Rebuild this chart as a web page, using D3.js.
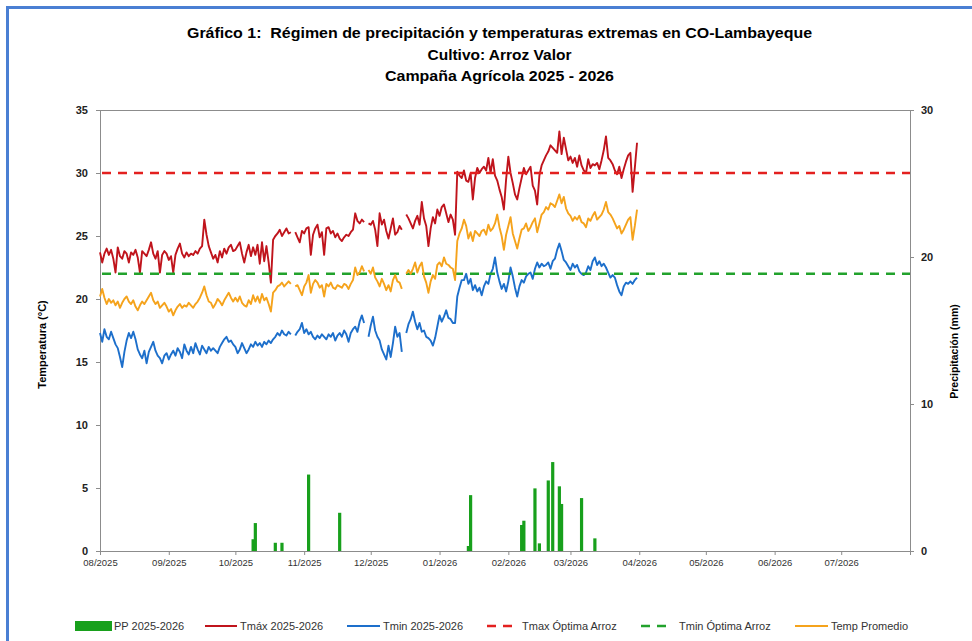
<!DOCTYPE html>
<html>
<head>
<meta charset="utf-8">
<script src="https://cdn.jsdelivr.net/npm/d3@7"></script>
<style>
  body { margin: 0; background: #fff; }
  svg { display: block; }
  text { font-family: "Liberation Sans", Arial, sans-serif; }
  text.title { white-space: pre; }
</style>
</head>
<body>
<svg id="chart" width="972" height="641"></svg>
<script>
// ---------------- DATA ----------------
const startDate = "2025-08-01";
const endDate = "2026-08-01";
const monthLabels = ["08/2025","09/2025","10/2025","11/2025","12/2025","01/2026",
                     "02/2026","03/2026","04/2026","05/2026","06/2026","07/2026"];
const tempTicks = [0, 5, 10, 15, 20, 25, 30, 35];
const ppTicks = [0, 10, 20, 30];

// Daily series from 01/08/2025 to 31/03/2026 (null = missing day)
const tmax = [
  23.7,22.9,23.6,24.0,23.5,23.9,23.2,22.1,24.1,23.4,23.2,23.8,23.6,22.9,23.7,23.5,23.9,23.3,22.1,23.8,23.6,23.4,23.9,24.5,23.6,23.2,23.8,22.1,23.5,23.8,23.6,
  23.1,23.4,22.1,23.5,24.0,24.4,23.6,23.3,23.7,23.4,23.6,23.5,23.8,23.6,24.0,24.2,26.3,25.1,24.2,23.7,23.2,23.5,22.9,23.8,23.3,24.0,23.6,24.1,24.3,23.8,
  23.9,24.2,24.5,23.6,22.9,23.7,24.3,23.4,24.1,23.5,24.3,22.8,24.5,23.0,24.2,22.9,21.3,24.7,25.0,25.2,25.5,25.0,25.3,25.6,25.2,25.3,null,25.3,24.9,24.5,25.4,
  25.2,25.6,25.7,23.5,25.1,25.6,25.9,24.9,25.3,23.5,25.6,25.7,25.2,25.4,24.9,25.2,24.8,24.6,24.9,25.1,25.0,25.3,25.5,26.8,26.2,26.0,26.3,26.1,null,26.0,
  25.9,26.2,25.5,24.2,26.8,25.9,26.3,25.4,24.8,25.6,26.4,25.1,25.3,25.8,25.5,null,26.7,26.4,26.0,25.6,26.2,26.6,25.9,27.7,26.4,25.8,24.2,25.6,26.5,26.0,27.1,
  26.6,27.3,27.5,26.8,26.1,26.7,26.3,25.1,30.1,29.8,29.6,30.2,29.4,29.3,30.0,27.9,29.6,30.4,30.0,30.3,30.5,30.2,31.2,30.0,31.1,29.8,29.4,28.7,28.1,27.1,29.5,
  31.3,30.0,29.2,28.3,27.9,28.8,29.6,30.4,29.9,30.2,30.5,29.0,28.6,27.5,29.8,30.6,31.0,31.4,31.7,32.2,32.0,31.8,31.6,33.3,31.5,32.8,31.9,31.0,
  31.3,30.8,31.2,30.5,31.4,30.6,30.2,30.0,31.1,30.4,30.7,30.6,30.8,30.3,31.0,31.8,32.9,31.2,31.0,30.7,30.2,29.9,30.5,29.6,30.3,30.9,31.4,31.6,28.5,30.4,32.4
];
const tmin = [
  17.3,16.6,17.6,17.0,16.8,17.4,16.9,16.4,16.1,15.4,14.6,15.8,16.7,17.3,16.9,17.4,16.8,16.0,15.6,15.3,15.9,14.9,15.8,16.2,16.6,15.9,15.5,15.3,14.9,15.5,15.7,
  15.2,15.6,15.9,15.5,16.1,15.8,15.3,16.4,15.9,15.6,16.2,15.7,16.5,16.0,15.6,16.3,16.0,15.7,16.2,15.9,16.1,15.9,15.7,16.2,16.5,16.8,17.0,16.6,16.7,16.4,
  16.2,15.7,16.0,16.5,16.1,15.7,16.0,16.4,16.2,16.6,16.3,16.5,16.2,16.6,16.4,16.7,16.5,16.8,17.0,17.3,17.1,17.5,17.2,17.1,17.4,17.2,null,17.1,17.4,17.6,18.1,
  17.3,17.6,17.2,17.4,17.0,16.8,17.1,16.9,17.2,17.0,16.8,17.2,17.0,17.3,16.7,17.1,17.3,17.0,17.5,17.2,16.6,17.3,17.6,17.8,17.4,18.2,18.7,18.1,null,17.0,
  17.9,18.6,17.5,17.0,16.7,16.0,15.6,15.2,16.3,15.4,16.5,17.8,17.0,17.3,15.8,null,17.3,18.0,18.4,19.0,18.2,17.6,18.1,17.4,17.5,17.0,16.9,16.7,16.3,16.9,17.8,
  18.7,18.2,18.6,19.1,18.5,18.4,18.1,18.1,20.2,20.9,21.5,21.5,22.0,21.2,21.6,20.7,21.1,20.6,20.9,20.3,21.0,21.4,21.2,22.0,22.4,23.3,22.1,21.4,20.8,21.2,20.6,
  21.4,22.5,21.8,20.9,20.2,21.0,21.5,21.3,21.8,22.0,22.1,21.6,22.4,22.9,22.5,22.8,22.6,22.7,22.9,22.4,23.0,23.2,23.9,24.4,23.8,23.1,22.9,22.6,
  22.3,22.8,22.5,22.7,22.2,22.0,21.9,22.1,22.6,22.3,23.0,23.3,22.7,23.0,22.6,22.8,22.5,22.1,21.7,21.9,21.7,21.1,20.6,20.3,21.0,21.3,21.2,21.4,21.2,21.5,21.7
];
const tavg = [
  20.2,20.8,20.1,19.6,20.0,19.7,19.9,19.5,19.8,19.3,19.7,20.0,20.2,19.8,19.6,19.9,19.4,19.1,19.5,19.8,19.6,19.9,20.2,20.5,19.9,19.6,19.8,19.3,19.5,19.7,19.4,
  19.0,19.2,18.7,19.1,19.4,19.6,19.3,19.5,19.4,19.7,19.5,19.3,19.6,19.8,20.1,20.5,21.0,20.3,19.8,19.7,19.3,19.6,20.0,19.8,19.5,19.9,20.2,20.5,20.1,19.8,
  20.1,19.8,20.2,19.7,19.5,19.4,19.9,19.6,20.3,19.8,20.2,19.7,20.4,19.9,20.1,19.6,19.0,20.5,20.7,21.0,21.1,21.3,21.0,21.2,21.4,21.2,null,21.0,21.1,20.7,20.3,
  21.0,21.3,21.9,20.5,21.2,21.5,21.3,20.9,21.1,20.2,21.2,21.0,21.3,20.9,20.8,21.1,21.0,20.9,21.2,21.1,20.8,21.2,21.5,22.5,21.9,22.1,22.6,22.2,null,22.3,
  22.0,22.5,21.7,21.4,21.0,21.6,21.2,20.7,21.1,20.6,21.5,21.9,21.4,21.3,20.8,null,22.0,22.3,22.0,22.4,22.9,22.1,22.6,22.9,21.8,21.3,20.5,21.4,21.9,21.6,22.7,
  22.9,22.6,23.3,22.8,22.7,22.5,22.4,21.5,24.6,25.2,25.6,26.3,25.8,24.8,25.3,24.6,25.4,25.2,25.0,25.4,25.5,25.1,25.9,25.4,25.6,26.0,26.7,25.7,25.0,23.9,25.1,
  25.8,26.5,25.2,24.6,24.0,24.8,25.5,25.6,26.0,25.4,25.7,26.1,26.4,25.3,26.0,26.7,26.9,27.3,27.1,27.6,27.5,27.3,27.8,28.3,27.6,28.1,27.2,26.8,
  26.6,26.2,26.5,26.3,26.6,26.1,26.0,25.7,26.4,26.2,26.6,26.9,26.3,26.5,26.7,27.1,27.7,26.9,26.7,26.4,26.0,25.6,25.8,25.2,25.5,25.9,26.3,26.5,24.7,25.8,27.1
];
// Rainy days (mm)
const ppDates = ["2025-10-09","2025-10-10","2025-10-19","2025-10-22","2025-11-03","2025-11-17",
                 "2026-01-14","2026-01-15","2026-02-07","2026-02-08","2026-02-13","2026-02-15",
                 "2026-02-19","2026-02-21","2026-02-24","2026-02-25","2026-03-06","2026-03-12"];
const ppValues = [0.8, 1.9, 0.56, 0.56, 5.2, 2.6,
                  0.34, 3.8, 1.77, 2.06, 4.26, 0.52,
                  4.8, 6.05, 4.4, 3.2, 3.6, 0.86];
const tmaxOptimal = 30;
const tminOptimal = 22;

// ---------------- CHART ----------------
const svg = d3.select("#chart");
const W = 972, H = 641;
const m = { left: 100, right: 910, top: 110, bottom: 551 };
const parse = d3.utcParse("%Y-%m-%d");
const t0 = parse(startDate), t1 = parse(endDate);

const x = d3.scaleUtc().domain([t0, t1]).range([m.left, m.right]);
const y = d3.scaleLinear().domain([0, 35]).range([m.bottom, m.top]);
const y2 = d3.scaleLinear().domain([0, 30]).range([m.bottom, m.top]);

// frame
svg.append("rect").attr("x", 0).attr("y", 0).attr("width", W).attr("height", H).attr("fill", "#fff");
svg.append("rect").attr("x", 7.5).attr("y", 7.5).attr("width", 990).attr("height", 660)
  .attr("fill", "none").attr("stroke", "#4A7FD3").attr("stroke-width", 3);

// titles
const titles = [
  { t: "Gráfico 1:  Régimen de precipitación y temperaturas extremas en CO-Lambayeque", y: 38, w: 625 },
  { t: "Cultivo: Arroz Valor", y: 60, w: 144 },
  { t: "Campaña Agrícola 2025 - 2026", y: 81, w: 229 }
];
svg.selectAll("text.title").data(titles).join("text").attr("class", "title")
  .attr("x", 499.5).attr("y", d => d.y).attr("text-anchor", "middle")
  .attr("font-size", 14).attr("font-weight", "bold").attr("fill", "#000")
  .attr("textLength", d => d.w).attr("lengthAdjust", "spacingAndGlyphs")
  .text(d => d.t);

// axes
const axisColor = "#8c8c8c";
const gL = svg.append("g").attr("transform", `translate(${m.left},0)`)
  .call(d3.axisLeft(y).tickValues(tempTicks).tickSize(4).tickPadding(8).tickFormat(d3.format("d")));
const gR = svg.append("g").attr("transform", `translate(${m.right},0)`)
  .call(d3.axisRight(y2).tickValues(ppTicks).tickSize(4).tickPadding(7).tickFormat(d3.format("d")));
const monthStarts = d3.utcMonth.range(t0, t1);
const gX = svg.append("g").attr("transform", `translate(0,${m.bottom})`)
  .call(d3.axisBottom(x).tickValues(monthStarts).tickSize(4).tickPadding(4)
    .tickFormat((d, i) => monthLabels[i]));
[gL, gR, gX].forEach(g => {
  g.select(".domain").attr("stroke", axisColor);
  g.selectAll(".tick line").attr("stroke", axisColor);
});
[gL, gR].forEach(g => g.selectAll(".tick text")
  .attr("font-size", 11).attr("font-weight", "bold").attr("fill", "#222")
  .style("font-family", '"Liberation Sans", Arial, sans-serif'));
gX.selectAll(".tick text").attr("font-size", 9.5).attr("fill", "#333")
  .style("font-family", '"Liberation Sans", Arial, sans-serif');
// top border
svg.append("line").attr("x1", m.left).attr("x2", m.right).attr("y1", m.top + 0.5).attr("y2", m.top + 0.5)
  .attr("stroke", axisColor);

// axis titles
svg.append("text").attr("transform", `translate(46,${(m.top + m.bottom) / 2 + 14}) rotate(-90)`)
  .attr("text-anchor", "middle").attr("font-size", 11).attr("font-weight", "bold").attr("fill", "#000")
  .text("Temperatura (°C)");
svg.append("text").attr("transform", `translate(958,${(m.top + m.bottom) / 2 + 21}) rotate(-90)`)
  .attr("text-anchor", "middle").attr("font-size", 10.5).attr("font-weight", "bold").attr("fill", "#000")
  .text("Precipitación (mm)");

// colors
const C = {
  pp: "#18a01c", tmax: "#c0141c", tmin: "#1d6fcb", tavg: "#f5a31c",
  tmaxOpt: "#e3201f", tminOpt: "#22a22c"
};

// precipitation bars
const pp = ppDates.map((d, i) => ({ date: parse(d), v: ppValues[i] }));
svg.append("g").selectAll("rect").data(pp).join("rect")
  .attr("x", d => x(d.date) - 1.6).attr("width", 3.2)
  .attr("y", d => y2(d.v)).attr("height", d => y2(0) - y2(d.v))
  .attr("fill", C.pp);

// temperature lines
const days = tmax.map((_, i) => d3.utcDay.offset(t0, i));
const line = d3.line().defined(d => d.v != null).x(d => x(d.date)).y(d => y(d.v));
function drawSeries(values, color) {
  const data = values.map((v, i) => ({ date: days[i], v }));
  svg.append("path").datum(data).attr("d", line).attr("fill", "none")
    .attr("stroke", color).attr("stroke-width", 1.9).attr("stroke-linejoin", "round");
}
drawSeries(tmax, C.tmax);
drawSeries(tmin, C.tmin);

// optimal lines
[[tmaxOptimal, C.tmaxOpt], [tminOptimal, C.tminOpt]].forEach(([v, c]) => {
  svg.append("line").attr("x1", m.left + 2).attr("x2", m.right).attr("y1", y(v)).attr("y2", y(v))
    .attr("stroke", c).attr("stroke-width", 2.6).attr("stroke-dasharray", "9,7");
});
drawSeries(tavg, C.tavg);

// legend
const ly = 626;
const lg = svg.append("g").attr("font-size", 11).attr("fill", "#333");
lg.append("rect").attr("x", 75).attr("y", ly - 5).attr("width", 37).attr("height", 10).attr("fill", C.pp);
const legendLines = [
  { x1: 205, x2: 237, c: C.tmax, dash: null, tx: 240, label: "Tmáx 2025-2026" },
  { x1: 347, x2: 380, c: C.tmin, dash: null, tx: 383, label: "Tmin 2025-2026" },
  { x1: 487, x2: 513, c: C.tmaxOpt, dash: "9,7", tx: 522, label: "Tmax Óptima Arroz" },
  { x1: 641, x2: 667, c: C.tminOpt, dash: "9,7", tx: 679, label: "Tmin Óptima Arroz" },
  { x1: 795, x2: 828, c: C.tavg, dash: null, tx: 831, label: "Temp Promedio" }
];
legendLines.forEach(d => {
  lg.append("line").attr("x1", d.x1).attr("x2", d.x2).attr("y1", ly).attr("y2", ly)
    .attr("stroke", d.c).attr("stroke-width", d.dash ? 2.6 : 2)
    .attr("stroke-dasharray", d.dash);
});
const legendTexts = [{ x: 114, label: "PP 2025-2026" }].concat(legendLines.map(d => ({ x: d.tx, label: d.label })));
lg.selectAll("text").data(legendTexts).join("text")
  .attr("x", d => d.x).attr("y", ly + 4).attr("fill", "#333").text(d => d.label);
</script>
</body>
</html>
